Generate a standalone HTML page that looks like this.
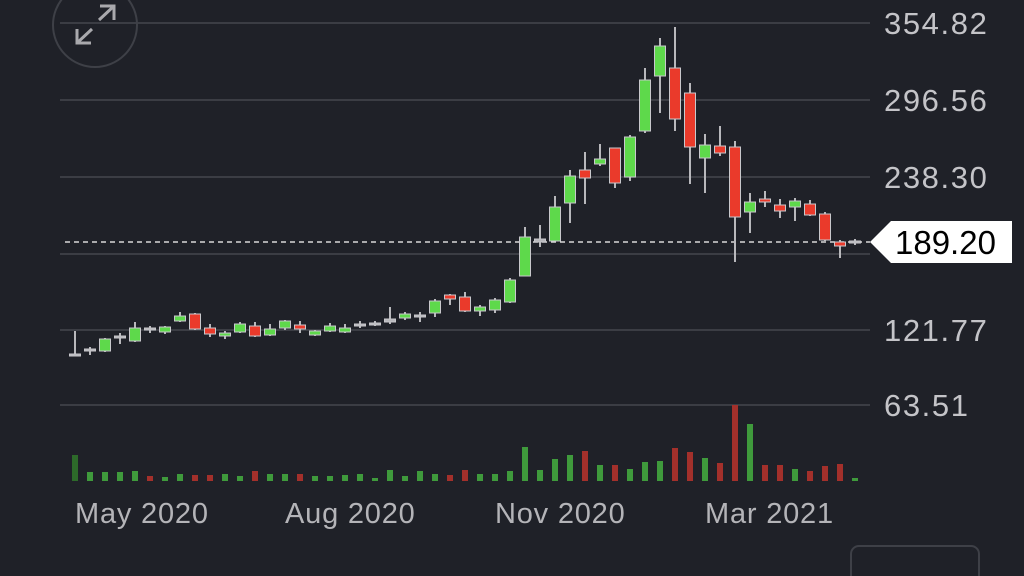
<!DOCTYPE html>
<html><head><meta charset="utf-8"><style>
html,body{margin:0;padding:0;background:#1f2128;width:1024px;height:576px;overflow:hidden}
svg{display:block}
text{font-family:"Liberation Sans",sans-serif}
</style></head><body>
<svg id="s" width="1024" height="576" xmlns="http://www.w3.org/2000/svg">
<rect width="1024" height="576" fill="#1f2128"/>
<g stroke="#45474e" stroke-width="1.5">
<line x1="60" y1="23" x2="870" y2="23"/>
<line x1="60" y1="100" x2="870" y2="100"/>
<line x1="60" y1="177" x2="870" y2="177"/>
<line x1="60" y1="254" x2="870" y2="254"/>
<line x1="60" y1="330" x2="870" y2="330"/>
<line x1="60" y1="405" x2="870" y2="405"/>
</g>
<circle cx="95" cy="25" r="42" fill="none" stroke="#3e4047" stroke-width="2"/>
<g stroke="#a9a9ad" stroke-width="3" fill="none">
<path d="M99 20 L114 6 M100 6 L114 6 L114 20"/>
<path d="M92 29 L77 43 M77 29 L77 43 L91 43"/>
</g>
<g fill="#c4c4c8" font-size="31" letter-spacing="1.6">
<text x="884" y="34">354.82</text>
<text x="884" y="111">296.56</text>
<text x="884" y="188">238.30</text>
<text x="884" y="341">121.77</text>
<text x="884" y="416">63.51</text>
</g>
<g fill="#b4b4b8" font-size="29" letter-spacing="0.8">
<text x="75" y="523">May 2020</text>
<text x="285" y="523">Aug 2020</text>
<text x="495" y="523">Nov 2020</text>
<text x="705" y="523">Mar 2021</text>
</g>
<line x1="65" y1="242" x2="870" y2="242" stroke="#d8d8d8" stroke-width="1.5" stroke-dasharray="5,4"/>
<path d="M870 242 L891 221 L1012 221 L1012 263 L891 263 Z" fill="#fff"/>
<text x="895" y="254" font-size="33" fill="#000">189.20</text>
<rect x="851" y="546" width="128" height="40" rx="8" fill="none" stroke="#3e4047" stroke-width="2"/>
<g id="c"></g>
</svg>
<script>
var C=[
[331,355,354,356,'n'],[347,355,349,351,'n'],[338,352,339,351,'g'],[333,344,336,338,'n'],[322,342,328,341,'g'],
[326,333,328,330,'n'],[326,334,327,332,'g'],[312,322,316,321,'g'],[313,330,314,329,'r'],[324,337,328,334,'r'],
[331,339,333,336,'g'],[322,333,324,332,'g'],[322,337,326,336,'r'],[324,336,329,335,'g'],[320,330,321,328,'g'],
[321,333,325,329,'r'],[330,336,331,335,'g'],[323,332,326,331,'g'],[324,333,328,332,'g'],[321,328,324,326,'n'],
[321,326,323,325,'n'],[307,324,319,322,'n'],[312,320,314,318,'g'],[312,322,315,317,'n'],[299,317,301,313,'g'],
[294,305,295,299,'r'],[292,312,297,311,'r'],[305,316,307,311,'g'],[298,313,300,310,'g'],[278,303,280,302,'g'],
[227,276,237,276,'g'],[225,247,239,242,'n'],[196,241,207,241,'g'],[170,223,176,203,'g'],[152,204,170,178,'r'],
[144,166,159,164,'g'],[148,188,148,183,'r'],[135,181,137,177,'g'],[68,133,80,131,'g'],[38,113,46,76,'g'],
[27,131,68,119,'r'],[83,184,93,147,'r'],[134,193,145,158,'g'],[126,156,146,153,'r'],[141,262,147,217,'r'],
[193,233,202,212,'g'],[191,207,199,202,'r'],[199,218,205,211,'r'],[198,221,201,207,'g'],[200,216,204,215,'r'],
[212,241,214,240,'r'],[240,258,242,246,'r'],[239,245,241,243,'n']];
var V=[455,472,472,472,471,476,477,474,475,475,474,476,471,474,474,474,476,476,475,474,478,470,476,471,474,475,470,474,474,471,
447,470,459,455,451,465,465,469,462,461,448,452,458,463,405,424,465,465,469,471,466,464,478];
var VC=['d','g','g','g','g','r','g','g','r','r','g','g','r','g','g','r','g','g','g','g','g','g','g','g','g','r','r','g','g','g',
'g','g','g','g','r','g','r','g','g','g','r','r','g','r','r','g','r','r','g','r','r','r','g'];
var h='';
for(var i=0;i<C.length;i++){var x=75+i*15,c=C[i];
h+='<line x1="'+x+'" y1="'+c[0]+'" x2="'+x+'" y2="'+c[1]+'" stroke="#b8b8bc" stroke-width="2"/>';
var f=c[4]=='g'?'#5ed94b':c[4]=='r'?'#ea3a2b':'#b8b8bc';var bh=Math.max(c[3]-c[2],2);
h+='<rect x="'+(x-5.5)+'" y="'+c[2]+'" width="11" height="'+bh+'" fill="'+f+'" stroke="#c8c8cc" stroke-width="1"/>';
var vc=VC[i]=='g'?'#3f9a3c':VC[i]=='r'?'#a3302b':'#2d6a2a';
h+='<rect x="'+(x-3)+'" y="'+V[i]+'" width="6" height="'+(481-V[i])+'" fill="'+vc+'"/>';}
document.getElementById('c').innerHTML=h;
</script>
</body></html>
